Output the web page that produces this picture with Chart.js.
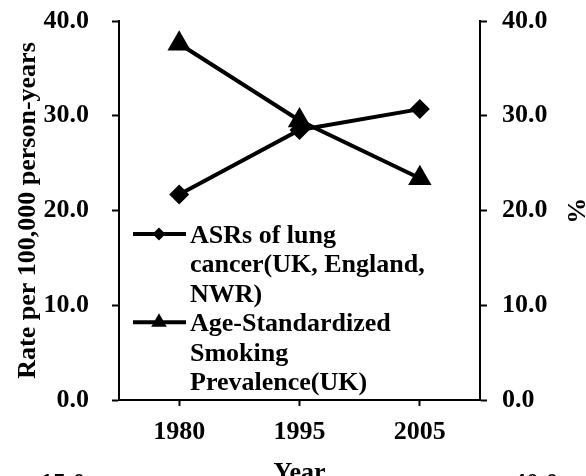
<!DOCTYPE html>
<html>
<head>
<meta charset="utf-8">
<script src="https://cdn.jsdelivr.net/npm/chart.js@4.4.1/dist/chart.umd.min.js"></script>
<style>
  html, body { margin: 0; padding: 0; background: #fff; overflow: hidden; }
  #wrap { width: 586px; height: 476px; overflow: hidden; }
</style>
</head>
<body>
<div id="wrap"><canvas id="myChart" width="586" height="500"></canvas></div>
<script>
// data
var years = ['1980', '1995', '2005'];
var lungRates = [21.7, 28.5, 30.7];
var smokingRates = [37.6, 29.5, 23.4];
var lungLabel = ['ASRs of lung', 'cancer(UK, England,', 'NWR)'];
var smokingLabel = ['Age-Standardized', 'Smoking', 'Prevalence(UK)'];
var yMin = 0, yMax = 40, yStep = 10;
// tops of the next chart's tick labels, cut off by the frame
var cutLabels = ['15.0', '40.0'];

var FONT = '"Liberation Serif", "Times New Roman", serif';
Chart.defaults.font.family = FONT;
Chart.defaults.font.size = 26;
Chart.defaults.font.weight = 'bold';
Chart.defaults.color = '#000';

function drawMarker(ctx, style, x, y, r)
{
  ctx.beginPath();
  if (style == 'triangle') {
    ctx.moveTo(x, y - r);
    ctx.lineTo(x + r * Math.sin(Math.PI / 3), y + r / 2);
    ctx.lineTo(x - r * Math.sin(Math.PI / 3), y + r / 2);
  } else {
    ctx.moveTo(x - r, y);
    ctx.lineTo(x, y - r);
    ctx.lineTo(x + r, y);
    ctx.lineTo(x, y + r);
  }
  ctx.closePath();
  ctx.fill();
}

// legend sits inside the plot with wrapped labels, so draw it by hand
var insideLegend = {
  id: 'insideLegend',
  afterDraw: function(chart) {
    var ctx = chart.ctx;
    var lineGap = 29.4;
    var baseline = 243;
    ctx.save();
    ctx.font = 'bold 26px ' + FONT;
    ctx.fillStyle = '#000';
    ctx.strokeStyle = '#000';
    ctx.textAlign = 'left';
    ctx.textBaseline = 'alphabetic';
    chart.data.datasets.forEach(function(ds) {
      var my = baseline - 9;
      ctx.lineWidth = 4;
      ctx.beginPath();
      ctx.moveTo(133, my);
      ctx.lineTo(186, my);
      ctx.stroke();
      drawMarker(ctx, ds.pointStyle, 159, my, ds.legendRadius);
      ds.legendLines.forEach(function(t, i) {
        ctx.fillText(t, 190, baseline + i * lineGap);
      });
      baseline += ds.legendLines.length * lineGap;
    });
    // partial labels of the chart below
    ctx.fillText(cutLabels[0], 40, 491);
    ctx.fillText(cutLabels[1], 513, 491);
    ctx.restore();
  }
};

function yAxis(position, title, width, pad, titlePad, titleLH)
{
  return {
    position: position,
    min: yMin,
    max: yMax,
    ticks: {
      stepSize: yStep,
      padding: pad,
      callback: function(v) { return v.toFixed(1); }
    },
    grid: { drawOnChartArea: false, tickLength: 7, tickWidth: 2, tickColor: '#000' },
    border: { color: '#000', width: 2 },
    title: {
      display: true,
      text: title,
      padding: { top: titlePad, bottom: 0 },
      font: { size: 26, weight: 'bold', lineHeight: titleLH }
    },
    afterFit: function(scale) {
      scale.width = width;
      scale.paddingTop = 0;
      scale.paddingBottom = 0;
    }
  };
}

var ctx = document.getElementById('myChart').getContext('2d');
var chart = new Chart(ctx, {
  type: 'line',
  data: {
    labels: years,
    datasets: [{
      label: lungLabel.join(' '),
      legendLines: lungLabel,
      legendRadius: 6.5,
      data: lungRates,
      yAxisID: 'y',
      borderColor: '#000',
      backgroundColor: '#000',
      borderWidth: 4,
      pointStyle: 'rectRot',
      pointRadius: 10,
      pointBorderWidth: 0
    }, {
      label: smokingLabel.join(' '),
      legendLines: smokingLabel,
      legendRadius: 9,
      data: smokingRates,
      yAxisID: 'y1',
      borderColor: '#000',
      backgroundColor: '#000',
      borderWidth: 4,
      pointStyle: 'triangle',
      pointRadius: 13.5,
      pointBorderWidth: 0
    }]
  },
  options: {
    responsive: false,
    animation: false,
    layout: { padding: { top: 21, left: 0, right: 0, bottom: 0 } },
    plugins: { legend: { display: false }, tooltip: { enabled: false } },
    scales: {
      x: {
        offset: true,
        ticks: { padding: 11 },
        grid: { drawOnChartArea: false, offset: false, tickLength: 6, tickWidth: 2, tickColor: '#000' },
        border: { color: '#000', width: 2 },
        title: { display: true, text: 'Year', padding: { top: 11, bottom: 11 } },
        afterFit: function(scale) {
          scale.height = 100;
          scale.paddingLeft = 0;
          scale.paddingRight = 0;
        }
      },
      y: yAxis('left', 'Rate per 100,000 person-years', 119, 23, 13, 1.2),
      y1: yAxis('right', '%', 106, 15, 0, 0.9)
    }
  },
  plugins: [insideLegend]
});
</script>
</body>
</html>
